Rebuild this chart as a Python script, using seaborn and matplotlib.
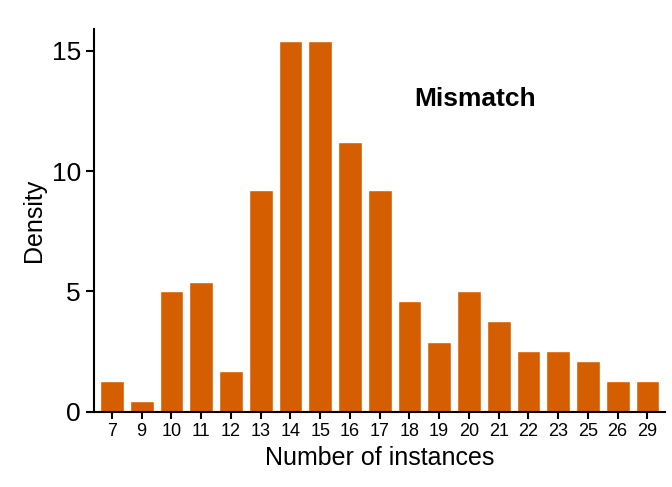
import matplotlib
matplotlib.use("Agg")
import matplotlib.pyplot as plt
import seaborn as sns
import pandas as pd

instances = ["7", "9", "10", "11", "12", "13", "14", "15", "16", "17",
             "18", "19", "20", "21", "22", "23", "25", "26", "29"]
density = [1.25, 0.42, 5.0, 5.4, 1.67, 9.2, 15.4, 15.4, 11.2, 9.2,
           4.6, 2.9, 5.0, 3.75, 2.5, 2.5, 2.1, 1.25, 1.25]

df = pd.DataFrame({"instances": instances, "density": density})

sns.set_style("ticks")
plt.rcParams["font.family"] = ["Liberation Sans", "DejaVu Sans"]
plt.rcParams["text.color"] = "black"
plt.rcParams["axes.labelcolor"] = "black"
plt.rcParams["xtick.color"] = "black"
plt.rcParams["ytick.color"] = "black"
plt.rcParams["axes.edgecolor"] = "black"

fig, ax = plt.subplots(figsize=(6.72, 4.87), dpi=100)
sns.barplot(data=df, x="instances", y="density", color="#d55e00",
            saturation=1, width=0.8, ax=ax)
ax.set_xlim(-0.6, len(instances) - 0.4)
ax.set_ylim(0, 15.9)
ax.set_yticks([0, 5, 10, 15])
ax.set_xlabel("Number of instances", fontsize=18)
ax.set_ylabel("Density", fontsize=18)
ax.tick_params(axis="y", labelsize=19, width=1.5, length=6)
ax.tick_params(axis="x", labelsize=13, width=1.5, length=5)
for s in ["left", "bottom"]:
    ax.spines[s].set_linewidth(1.5)
sns.despine(ax=ax)
ax.text(0.56, 0.8, "Mismatch", transform=ax.transAxes, fontsize=19,
        fontweight="bold")
fig.subplots_adjust(left=0.14, right=0.99, bottom=0.155, top=0.94)
fig.savefig("out.png")
